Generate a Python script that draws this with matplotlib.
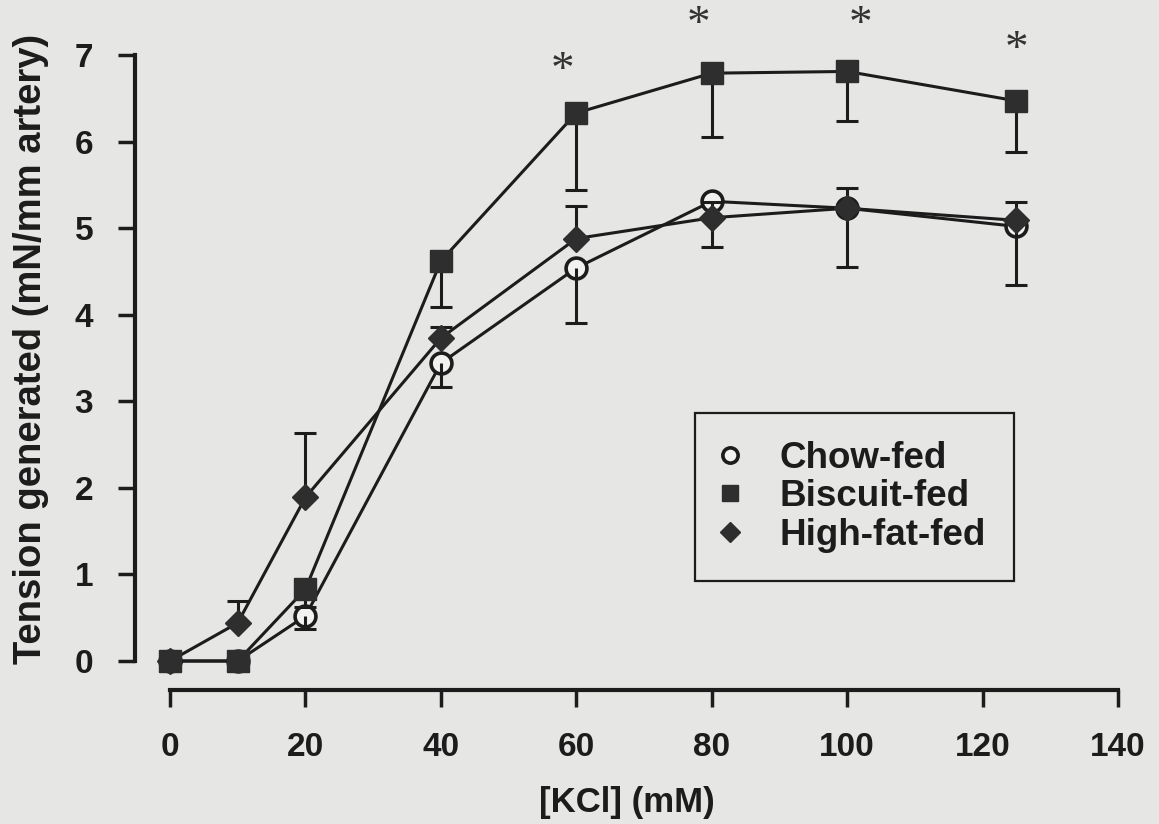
import matplotlib
matplotlib.use("Agg")
import matplotlib.pyplot as plt
from matplotlib.lines import Line2D
import numpy as np

# KCl concentration-response, mean with one-sided SEM bars
KCL = np.array([0, 10, 20, 40, 60, 80, 100, 125])

CHOW = np.array([0, 0, 0.52, 3.44, 4.54, 5.31, 5.23, 5.02])
CHOW_LO = np.array([0, 0, 0.15, 0.28, 0.63, 0, 0.68, 0.68])

BISCUIT = np.array([0, 0, 0.83, 4.62, 6.33, 6.79, 6.81, 6.47])
BISCUIT_LO = np.array([0, 0, 0.21, 0.53, 0.89, 0.74, 0.57, 0.59])

HIGHFAT = np.array([0, 0.44, 1.89, 3.73, 4.88, 5.12, 5.23, 5.09])
HIGHFAT_HI = np.array([0, 0.25, 0.74, 0.13, 0.37, 0.18, 0.23, 0.21])
HIGHFAT_LO = np.array([0, 0, 0, 0, 0, 0.34, 0, 0])

# significance markers (x, y of the text anchor)
STAR_X = [58, 78, 102, 125]
STAR_Y = [6.81, 7.34, 7.34, 7.05]

XTICKS = [0, 20, 40, 60, 80, 100, 120, 140]
YTICKS = [0, 1, 2, 3, 4, 5, 6, 7]
LABELS = ["Chow-fed", "Biscuit-fed", "High-fat-fed"]

BG, INK, FILL = "#e6e6e4", "#1c1c1c", "#2e2e2e"
SANS = ["Liberation Sans", "DejaVu Sans"]
LW = 2.2


def bars(ax, x, y, err, sign):
    m = err > 0
    ends = y[m] + sign * err[m]
    ax.vlines(x[m], y[m], ends, color=INK, lw=LW, zorder=4)
    ax.plot(x[m], ends, ls="none", marker="_", ms=16, mew=LW, color=INK, zorder=4)


fig = plt.figure(figsize=(11.59, 8.24), dpi=100, facecolor=BG)
ax = fig.add_axes([135 / 1159, 134 / 824, 983 / 1159, 635 / 824], facecolor=BG)
ax.set_xlim(-5.17, 140)
ax.set_ylim(-0.335, 7.0)

ax.plot(KCL, CHOW, color=INK, lw=LW, marker="o", ms=15, mfc="#f2f2f0",
        mec=INK, mew=2.6, zorder=3)
ax.plot(KCL, HIGHFAT, color=INK, lw=LW, marker="D", ms=13, mfc=FILL,
        mec=FILL, zorder=5)
ax.plot(KCL, BISCUIT, color=INK, lw=LW, marker="s", ms=16, mfc=FILL,
        mec=FILL, zorder=6)

bars(ax, KCL, CHOW, CHOW_LO, -1)
bars(ax, KCL, BISCUIT, BISCUIT_LO, -1)
bars(ax, KCL, HIGHFAT, HIGHFAT_HI, 1)
bars(ax, KCL, HIGHFAT, HIGHFAT_LO, -1)

for sx, sy in zip(STAR_X, STAR_Y):
    ax.text(sx, sy, "*", ha="center", va="center", fontsize=34,
            family=["Liberation Serif", "DejaVu Serif"], color="#333333",
            clip_on=False)

for s in ("top", "right"):
    ax.spines[s].set_visible(False)
ax.spines["left"].set_bounds(0, 7)
ax.spines["bottom"].set_bounds(0, 140)
for s in ("left", "bottom"):
    ax.spines[s].set_linewidth(3)
    ax.spines[s].set_color(INK)

ax.set_xticks(XTICKS)
ax.set_yticks(YTICKS)
ax.tick_params(length=12, width=2.5, color=INK, pad=18, labelsize=24)
for lab in ax.get_xticklabels() + ax.get_yticklabels():
    lab.set_family(SANS)
    lab.set_fontweight("bold")
    lab.set_color(INK)

ax.set_xlabel("[KCl] (mM)", fontsize=25, fontweight="bold", family=SANS,
              color=INK, labelpad=17)
ax.set_ylabel("Tension generated (mN/mm artery)", fontsize=27.5, fontweight="bold",
              family=SANS, color=INK)
ax.yaxis.set_label_coords(-0.087, 0.537)

handles = [
    Line2D([], [], ls="none", marker="o", ms=11, mfc="#f2f2f0", mec=INK, mew=2.6),
    Line2D([], [], ls="none", marker="s", ms=12, mfc=FILL, mec=FILL),
    Line2D([], [], ls="none", marker="D", ms=10, mfc=FILL, mec=FILL),
]
leg = ax.legend(handles, LABELS, loc="upper left", bbox_to_anchor=(695 / 1159, 1 - 413 / 824),
                bbox_transform=fig.transFigure, borderaxespad=0, fancybox=False,
                edgecolor=INK, facecolor=BG, framealpha=1, handlelength=0.4,
                handletextpad=1.15, borderpad=0.75, labelspacing=0.1,
                prop={"family": SANS, "weight": "bold", "size": 26.5})
leg.get_frame().set_linewidth(1.6)
for t in leg.get_texts():
    t.set_color(INK)

fig.savefig("out.png", dpi=100, facecolor=BG)
